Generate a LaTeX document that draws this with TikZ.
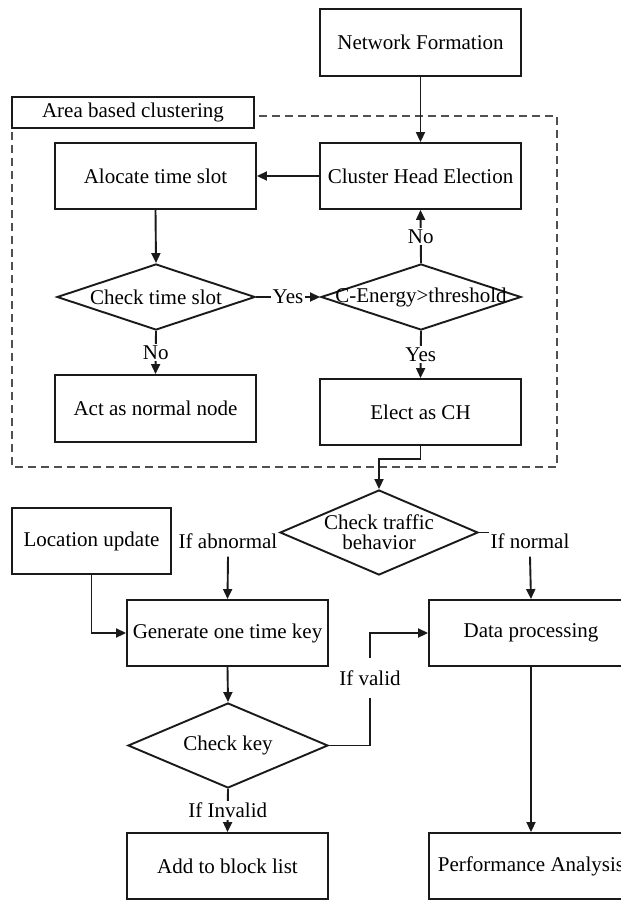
\documentclass[tikz,border=0pt]{standalone}
\usepackage{fontspec}
\setmainfont{Liberation Serif}
\usetikzlibrary{shapes.geometric,arrows.meta}
\definecolor{ink}{HTML}{1A1A1A}
\definecolor{dashgray}{HTML}{505050}
\tikzset{
  box/.style={draw=ink, line width=1.9pt, fill=white, minimum width=201pt, minimum height=66pt, inner sep=0pt, align=center},
  dia/.style={draw=ink, line width=1.9pt, shape=diamond, inner sep=0pt},
  txt/.style={inner sep=0pt, align=center, text=black},
  lbl/.style={fill=white, inner sep=2pt, text=black},
  conn/.style={draw=ink, line width=1.9pt},
  arr/.style={conn, -{Triangle[length=10pt,width=9pt]}}
}
\begin{document}
\begin{tikzpicture}[x=1pt,y=-1pt,font=\fontsize{21}{24}\selectfont]
\useasboundingbox (0,0) rectangle (621,900);
\clip (0,0) rectangle (621,900);
\fill[white] (0,0) rectangle (621,900);

% dashed cluster frame
\draw[dashgray, line width=1.8pt, dash pattern=on 8pt off 5pt] (259,116) -- (557,116) -- (557,467) -- (12,467) -- (12,128);

\node[box, minimum width=242pt, minimum height=31pt] (area) at (133,112.5) {Area based clustering};

\node[box, minimum height=67pt] (nf) at (420.5,42.5) {Network Formation};
\node[box] (ats) at (155.5,176) {Alocate time slot};
\node[box] (che) at (420.5,176) {Cluster Head Election};

\node[dia, minimum width=198pt, minimum height=66pt] (cts) at (156,297) {};
\node[txt] (ctst) at (cts.center) {Check time slot};
\node[dia, minimum width=200pt, minimum height=66pt] (ce) at (421,297) {};
\node[txt] (cet) at (ce.center) {C-Energy>threshold};

\node[box, minimum height=67pt] (act) at (155.5,408.5) {Act as normal node};
\node[box] (ech) at (420.5,412) {Elect as CH};

\node[dia, minimum width=198pt, minimum height=85pt] (ctb) at (379,532.5) {};
\node[txt] (ctbt) at (ctb.center) {Check traffic\\[-4pt]behavior};

\node[box, minimum width=159pt] (lu) at (91.5,541) {Location update};
\node[box] (gen) at (227.5,633) {Generate one time key};
\node[box, minimum width=204pt] (dp) at (531,633) {Data processing};

\node[dia, minimum width=200pt, minimum height=85pt] (ck) at (228,745.5) {};
\node[txt] (ckt) at (ck.center) {Check key};

\node[box] (abl) at (227.5,866) {Add to block list};
\node[box, minimum width=204pt] (pa) at (531,866) {Performance Analysis};

% labels without their own line
\node[txt] (ifab) at (228,541) {If abnormal};
\node[txt] (ifn) at (530,541) {If normal};
\node[txt, inner ysep=12pt] (ifv) at (370,678) {If valid};

% connectors
\draw[arr] (nf.south) -- (che.north);
\draw[arr] (che.west) -- (ats.east);
\draw[arr] (ats.south) -- (cts.north);
\draw[arr] (cts.east) -- node[lbl] (yes1) {Yes} (ce.west);
\draw[arr] (ce.north) -- node[lbl] (no1) {No} (che.south);
\draw[arr] (cts.south) -- node[lbl] (no2) {No} (act.north);
\draw[arr] (ce.south) -- node[lbl] (yes2) {Yes} (ech.north);
\draw[arr] (ech.south) -- ++(0,13) -| (ctb.north);
\draw[arr] (ifab.south) ++(0,8) -- (gen.north);
\draw[conn] (ctb.east) -- ++(10,0);
\draw[arr] (ifn.south) ++(0,8) -- (dp.north);
\draw[arr] (lu.south) |- (gen.west);
\draw[arr] (gen.south) -- (ck.north);
\draw[conn] (ck.east) -| (ifv.south);
\draw[arr] (ifv.north) |- (dp.west);
\draw[arr] (ck.south) -- node[lbl] (ifi) {If Invalid} (abl.north);
\draw[arr] (dp.south) -- (pa.north);
\end{tikzpicture}
\end{document}
